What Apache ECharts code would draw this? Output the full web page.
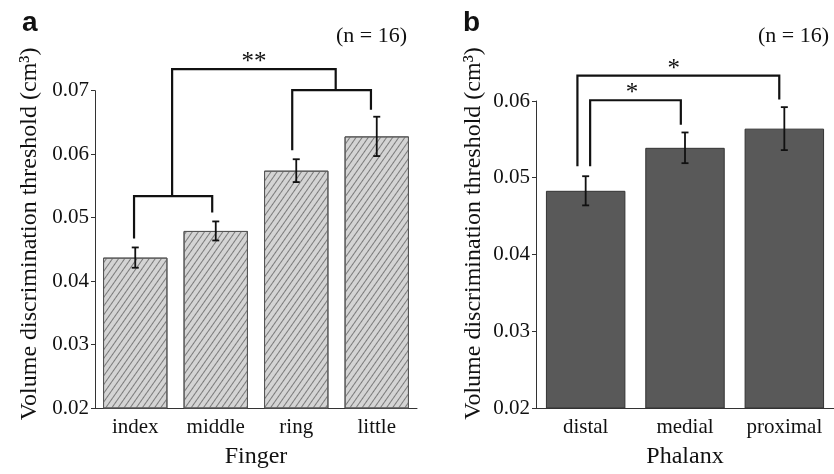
<!DOCTYPE html>
<html>
<head>
<meta charset="utf-8">
<script src="https://cdn.jsdelivr.net/npm/echarts@6/dist/echarts.min.js"></script>
<style>
html, body { margin: 0; padding: 0; background: #fff; }
#chart { width: 834px; height: 474px; }
</style>
</head>
<body>
<div id="chart"></div>
<script>
const fingers = ['index', 'middle', 'ring', 'little'];
const fingerMeans = [0.0437, 0.0479, 0.0574, 0.0628];
const fingerErrs = [0.0016, 0.0015, 0.0018, 0.0031];

const phalanges = ['distal', 'medial', 'proximal'];
const phalanxMeans = [0.0483, 0.0539, 0.0564];
const phalanxErrs = [0.0019, 0.0020, 0.0028];

// significance brackets: [left x, right x, bar height, left leg end, right leg end]
// x is in category units (0 = first category)
const bracketsA = [
    [-0.015, 0.956, 0.0534, 0.0467, 0.0508],
    [1.95, 2.928, 0.0701, 0.0606, 0.0670],
    [0.458, 2.49, 0.0734, 0.0534, 0.0701]
];
const starsA = [[1.474, 0.0734, '**']];
const bracketsB = [
    [-0.083, 1.949, 0.0633, 0.0515, 0.0602],
    [0.045, 0.958, 0.0601, 0.0515, 0.0569]
];
const starsB = [[0.886, 0.0633, '*'], [0.466, 0.0601, '*']];

const serif = "'Liberation Serif', 'Times New Roman', serif";
const ink = '#111';

const myChart = echarts.init(document.getElementById('chart'));

function errorBars(params, api) {
    const x = api.coord([api.value(0), api.value(1)])[0];
    const lo = api.coord([api.value(0), api.value(1)])[1];
    const hi = api.coord([api.value(0), api.value(2)])[1];
    const cap = 3.5;
    const style = { stroke: ink, lineWidth: 1.8 };
    return {
        type: 'group',
        children: [
            { type: 'line', shape: { x1: x, y1: lo, x2: x, y2: hi }, style },
            { type: 'line', shape: { x1: x - cap, y1: lo, x2: x + cap, y2: lo }, style },
            { type: 'line', shape: { x1: x - cap, y1: hi, x2: x + cap, y2: hi }, style }
        ]
    };
}

function bracketDrawer(list) {
    return function (params, api) {
        const b = list[params.dataIndex];
        const band = api.size([1, 0])[0];
        const x0 = api.coord([0, b[2]])[0];
        const X = v => x0 + v * band;
        const Y = v => api.coord([0, v])[1];
        return {
            type: 'polyline',
            shape: {
                points: [
                    [X(b[0]), Y(b[3])], [X(b[0]), Y(b[2])],
                    [X(b[1]), Y(b[2])], [X(b[1]), Y(b[4])]
                ]
            },
            style: { stroke: ink, lineWidth: 2.2, fill: null }
        };
    };
}

function starDrawer(list) {
    return function (params, api) {
        const s = list[params.dataIndex];
        const band = api.size([1, 0])[0];
        const p = api.coord([0, s[1]]);
        return {
            type: 'text',
            x: p[0] + s[0] * band,
            y: p[1] + 6,
            style: {
                text: s[2], fontSize: 25, fontFamily: serif, fill: ink,
                align: 'center', verticalAlign: 'bottom'
            }
        };
    };
}

function xAxisCfg(idx, cats, name) {
    return {
        type: 'category', gridIndex: idx, data: cats,
        name: name, nameLocation: 'middle', nameGap: 37,
        nameTextStyle: { fontSize: 24, fontFamily: serif, color: ink },
        axisLine: { lineStyle: { color: '#333', width: 1 } },
        axisTick: { alignWithLabel: true, length: 4, lineStyle: { color: '#333' } },
        axisLabel: { fontSize: 21, fontFamily: serif, color: ink, margin: 9 }
    };
}

function yAxisCfg(idx, max, gap, pad) {
    return {
        type: 'value', gridIndex: idx, min: 0.02, max: max, interval: 0.01,
        name: 'Volume discrimination threshold (cm³)',
        nameLocation: 'middle', nameGap: gap,
        nameTextStyle: { fontSize: 24, fontFamily: serif, color: ink, padding: [0, 0, 0, pad] },
        axisLine: { show: true, lineStyle: { color: '#333', width: 1 } },
        axisTick: { show: true, length: 4, lineStyle: { color: '#333' } },
        splitLine: { show: false },
        axisLabel: {
            fontSize: 21, fontFamily: serif, color: ink, margin: 6,
            formatter: v => v.toFixed(2)
        }
    };
}

const option = {
    animation: false,
    backgroundColor: '#fff',
    title: [
        { text: 'a', left: 22, top: 9, padding: 0,
          textStyle: { fontFamily: 'Liberation Sans', fontWeight: 'bold', fontSize: 28, color: ink } },
        { text: 'b', left: 463, top: 9, padding: 0,
          textStyle: { fontFamily: 'Liberation Sans', fontWeight: 'bold', fontSize: 28, color: ink } },
        { text: '(n = 16)', right: 427, top: 25, padding: 0,
          textStyle: { fontFamily: serif, fontWeight: 'normal', fontSize: 22, color: ink } },
        { text: '(n = 16)', right: 5, top: 25, padding: 0,
          textStyle: { fontFamily: serif, fontWeight: 'normal', fontSize: 22, color: ink } }
    ],
    grid: [
        { left: 95, top: 90.7, width: 322, height: 320 },
        { left: 536, top: 101, width: 305, height: 311.7 }
    ],
    xAxis: [xAxisCfg(0, fingers, 'Finger'), xAxisCfg(1, phalanges, 'Phalanx')],
    yAxis: [yAxisCfg(0, 0.07, 53, 31), yAxisCfg(1, 0.06, 50.7, 42)],
    series: [
        {
            type: 'bar', xAxisIndex: 0, yAxisIndex: 0, data: fingerMeans,
            barWidth: '80%',
            itemStyle: {
                color: '#d4d4d4', borderColor: '#555', borderWidth: 1,
                decal: {
                    symbol: 'rect', symbolSize: 1, color: '#7a7a7a',
                    dashArrayX: [1, 0], dashArrayY: [1, 4],
                    rotation: -0.96
                }
            }
        },
        {
            type: 'custom', xAxisIndex: 0, yAxisIndex: 0, z: 5,
            renderItem: errorBars,
            data: fingerMeans.map((v, i) => [i, v - fingerErrs[i], v + fingerErrs[i]])
        },
        {
            type: 'custom', xAxisIndex: 0, yAxisIndex: 0, z: 5, clip: false,
            renderItem: bracketDrawer(bracketsA),
            data: bracketsA.map(b => [0, b[2]])
        },
        {
            type: 'custom', xAxisIndex: 0, yAxisIndex: 0, z: 5, clip: false,
            renderItem: starDrawer(starsA),
            data: starsA.map(s => [0, s[1]])
        },
        {
            type: 'bar', xAxisIndex: 1, yAxisIndex: 1, data: phalanxMeans,
            barWidth: '80%',
            itemStyle: { color: '#595959', borderColor: '#333', borderWidth: 1 }
        },
        {
            type: 'custom', xAxisIndex: 1, yAxisIndex: 1, z: 5,
            renderItem: errorBars,
            data: phalanxMeans.map((v, i) => [i, v - phalanxErrs[i], v + phalanxErrs[i]])
        },
        {
            type: 'custom', xAxisIndex: 1, yAxisIndex: 1, z: 5, clip: false,
            renderItem: bracketDrawer(bracketsB),
            data: bracketsB.map(b => [0, b[2]])
        },
        {
            type: 'custom', xAxisIndex: 1, yAxisIndex: 1, z: 5, clip: false,
            renderItem: starDrawer(starsB),
            data: starsB.map(s => [0, s[1]])
        }
    ]
};

myChart.setOption(option);
window.addEventListener('resize', () => myChart.resize());
</script>
</body>
</html>
